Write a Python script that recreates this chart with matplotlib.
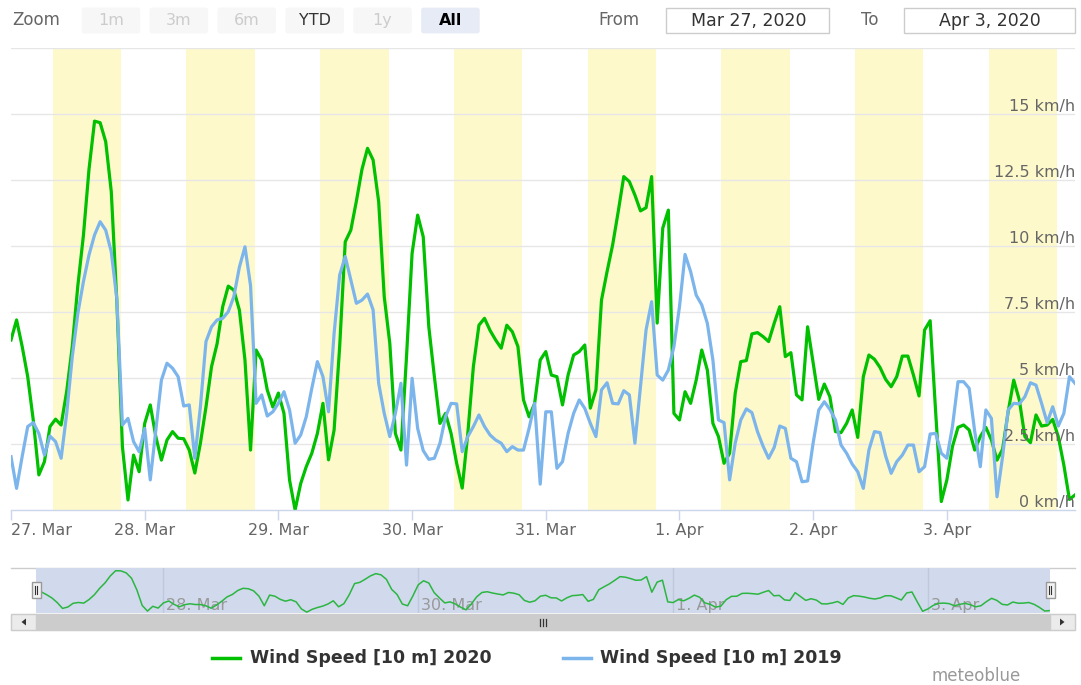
import numpy as np
import matplotlib
matplotlib.use("Agg")
import matplotlib.pyplot as plt
import matplotlib.transforms as mtransforms
from matplotlib.patches import FancyBboxPatch, Rectangle, Polygon

# ---------------- data (hourly, 27 Mar 00:00 -> 3 Apr 23:00) ----------------
wind_2020 = [
    6.44, 7.2, 6.2, 5.05, 3.4, 1.33, 1.83, 3.16, 3.44, 3.22, 4.5, 6.2,
    8.5, 10.4, 12.9, 14.73, 14.67, 13.95, 12.06, 7.9, 2.4, 0.38, 2.08, 1.45,
    3.28, 3.98, 2.78, 1.89, 2.65, 2.97, 2.72, 2.7, 2.27, 1.4, 2.53, 3.9,
    5.43, 6.3, 7.7, 8.48, 8.33, 7.57, 5.68, 2.27, 6.06, 5.68, 4.55, 3.9,
    4.43, 3.66, 1.14, 0.0, 1.0, 1.64, 2.15, 2.9, 4.04, 1.9, 3.03, 6.19,
    10.16, 10.6, 11.7, 12.9, 13.7, 13.26, 11.68, 8.08, 6.31, 2.9, 2.27, 5.81,
    9.72, 11.17, 10.35, 6.94, 5.05, 3.28, 3.66, 2.9, 1.77, 0.83, 2.9, 5.43,
    7.0, 7.26, 6.8, 6.44, 6.13, 7.0, 6.75, 6.19, 4.17, 3.53, 4.04, 5.68,
    6.0, 5.11, 5.05, 3.98, 5.11, 5.87, 6.0, 6.25, 3.86, 4.55, 7.95, 9.03,
    10.04, 11.3, 12.63, 12.44, 11.93, 11.33, 11.45, 12.63, 7.08, 10.68, 11.36, 3.66,
    3.41, 4.48, 4.04, 4.92, 6.06, 5.3, 3.28, 2.78, 1.77, 2.15, 4.42, 5.62,
    5.66, 6.67, 6.72, 6.57, 6.38, 7.07, 7.7, 5.81, 5.96, 4.36, 4.17, 6.94,
    5.56, 4.19, 4.77, 4.29, 2.97, 2.93, 3.28, 3.79, 2.75, 5.05, 5.87, 5.71,
    5.4, 4.95, 4.67, 5.05, 5.83, 5.83, 5.11, 4.32, 6.82, 7.17, 3.66, 0.32,
    1.14, 2.4, 3.13, 3.22, 3.03, 2.27, 2.78, 3.13, 2.65, 1.89, 2.3, 3.72,
    4.92, 4.17, 2.78, 2.55, 3.6, 3.18, 3.22, 3.43, 2.78, 1.7, 0.4, 0.57,
]
wind_2019 = [
    2.02, 0.82, 2.02, 3.16, 3.31, 2.9, 2.08, 2.8, 2.59, 1.96, 3.66, 5.81,
    7.45, 8.65, 9.66, 10.42, 10.92, 10.6, 9.78, 8.0, 3.22, 3.47, 2.59, 2.21,
    3.09, 1.14, 3.03, 4.92, 5.56, 5.37, 5.05, 3.94, 3.98, 1.96, 3.91, 6.38,
    6.94, 7.2, 7.26, 7.51, 8.08, 9.2, 9.97, 8.5, 4.04, 4.36, 3.56, 3.72,
    4.04, 4.48, 3.79, 2.53, 2.84, 3.53, 4.61, 5.62, 5.05, 3.72, 6.69, 8.9,
    9.6, 8.71, 7.83, 7.95, 8.18, 7.58, 4.8, 3.66, 2.78, 3.66, 4.8, 1.7,
    4.99, 3.09, 2.25, 1.92, 1.96, 2.53, 3.53, 4.04, 4.02, 2.21, 2.78, 3.16,
    3.6, 3.16, 2.84, 2.65, 2.53, 2.21, 2.4, 2.27, 2.27, 3.09, 4.04, 0.98,
    3.72, 3.72, 1.58, 1.83, 2.9, 3.66, 4.17, 3.85, 3.28, 2.78, 4.55, 4.82,
    4.04, 4.02, 4.52, 4.36, 2.53, 4.67, 6.82, 7.89, 5.11, 4.92, 5.3, 6.19,
    7.7, 9.68, 9.03, 8.14, 7.77, 7.07, 5.68, 3.41, 3.31, 1.14, 2.53, 3.41,
    3.83, 3.69, 2.97, 2.42, 1.96, 2.37, 3.18, 3.09, 1.96, 1.83, 1.07, 1.1,
    2.55, 3.79, 4.1, 3.81, 3.41, 2.46, 2.15, 1.74, 1.45, 0.82, 2.27, 2.97,
    2.93, 2.05, 1.39, 1.83, 2.08, 2.46, 2.46, 1.45, 1.64, 2.88, 2.9, 2.15,
    1.96, 3.16, 4.86, 4.86, 4.61, 2.97, 1.64, 3.79, 3.47, 0.5, 2.02, 3.79,
    4.04, 4.02, 4.29, 4.82, 4.73, 4.04, 3.31, 3.91, 3.18, 3.66, 5.05, 4.8,
]
day_labels = ["27. Mar", "28. Mar", "29. Mar", "30. Mar", "31. Mar", "1. Apr", "2. Apr", "3. Apr"]
nav_labels = {1: "28. Mar", 3: "30. Mar", 5: "1. Apr", 7: "3. Apr"}
y_ticks = [0, 2.5, 5, 7.5, 10, 12.5, 15]
y_tick_labels = ["0 km/h", "2.5 km/h", "5 km/h", "7.5 km/h", "10 km/h", "12.5 km/h", "15 km/h"]
daylight_start_h = 7.5
daylight_end_h = 19.8
series_names = ["Wind Speed [10 m] 2020", "Wind Speed [10 m] 2019"]
zoom_buttons = ["1m", "3m", "6m", "YTD", "1y", "All"]
date_from = "Mar 27, 2020"
date_to = "Apr 3, 2020"

assert len(wind_2020) == 192 and len(wind_2019) == 192
hours = np.arange(len(wind_2020))
day_ticks = np.arange(len(day_labels)) * 24

GREEN = "#00c000"
BLUE = "#7cb5ec"
W, H = 1081, 685

fig = plt.figure(figsize=(W / 100, H / 100), dpi=100)
fig.patch.set_facecolor("white")

# overlay in pixel coordinates for UI chrome (below charts)
ov = fig.add_axes([0, 0, 1, 1], zorder=0)
ov.set_xlim(0, W)
ov.set_ylim(H, 0)
ov.axis("off")

# ---------------- top toolbar ----------------
ov.text(12, 20, "Zoom", va="center", ha="left", color="#666666", fontsize=12)
btn_x0, btn_w, btn_step = 81.7, 58.5, 67.9
for i, lab in enumerate(zoom_buttons):
    x0 = btn_x0 + i * btn_step
    fc = "#e6ebf5" if lab == "All" else "#f7f7f7"
    ov.add_patch(FancyBboxPatch((x0, 7.6), btn_w, 25.8,
                                boxstyle="round,pad=0,rounding_size=2.5",
                                fc=fc, ec="none"))
    if lab == "All":
        col, wt = "#000000", "bold"
    elif lab == "YTD":
        col, wt = "#333333", "normal"
    else:
        col, wt = "#cccccc", "normal"
    ov.text(x0 + btn_w / 2, 20.5, lab, ha="center", va="center", color=col,
            fontsize=11.5, fontweight=wt)

ov.text(598, 20, "From", va="center", ha="left", color="#666666", fontsize=12)
ov.add_patch(Rectangle((666, 7.6), 163, 25.8, fc="white", ec="#cccccc", lw=1))
ov.text(749, 20.5, date_from, ha="center", va="center", color="#333333", fontsize=12.5)
ov.text(861, 20, "To", va="center", ha="left", color="#666666", fontsize=12)
ov.add_patch(Rectangle((904, 7.6), 171, 25.8, fc="white", ec="#cccccc", lw=1))
ov.text(990, 20.5, date_to, ha="center", va="center", color="#333333", fontsize=12.5)

# ---------------- main chart ----------------
ax = fig.add_axes([11 / W, 1 - 510 / H, 1064 / W, 462 / H], zorder=2)
ax.set_xlim(hours[0], hours[-1])
ax.set_ylim(0, 17.5)
ax.set_facecolor("white")
for side in ["top", "left", "right"]:
    ax.spines[side].set_visible(False)
ax.spines["bottom"].set_color("#ccd6eb")
ax.spines["bottom"].set_linewidth(1)
ax.spines["bottom"].set_zorder(5)

for d in day_ticks:
    ax.axvspan(d + daylight_start_h, d + daylight_end_h, color="#fdf9cb", lw=0, zorder=0)

for v in np.arange(2.5, 17.6, 2.5):
    ax.axhline(v, color="#e6e6e6", lw=1, zorder=1)

ax.plot(hours, wind_2020, color=GREEN, lw=2.3, zorder=3, solid_joinstyle="round")
ax.plot(hours, wind_2019, color=BLUE, lw=2.3, zorder=4, solid_joinstyle="round")

ax.set_yticks([])
ax.set_xticks(day_ticks)
ax.set_xticklabels(day_labels)
ax.tick_params(axis="x", length=7.2, width=1, color="#ccd6eb", labelcolor="#666666",
               labelsize=11.5, pad=2.0, direction="out")
ax.get_xticklabels()[0].set_ha("left")

ytrans = mtransforms.blended_transform_factory(ax.transAxes, ax.transData)
for v, lab in zip(y_ticks, y_tick_labels):
    ax.text(1.0, v + 0.27, lab, transform=ytrans, ha="right", va="center",
            color="#666666", fontsize=11.5, zorder=6)

# ---------------- navigator ----------------
ov.plot([11, 1075], [567.5, 567.5], color="#cccccc", lw=1)
nav = fig.add_axes([36 / W, 1 - 613 / H, 1014 / W, 45 / H], zorder=2)
nav.set_facecolor("#d1d9ec")
nav.set_xlim(hours[0], hours[-1])
nav.set_ylim(-0.3, 15.7)
for s in nav.spines.values():
    s.set_visible(False)
nav.set_xticks([])
nav.set_yticks([])
for d_i, lab in nav_labels.items():
    x = day_ticks[d_i]
    nav.axvline(x, color="#bfc8dc", lw=1, zorder=1)
    tr = mtransforms.offset_copy(nav.transData, fig=fig, x=3, y=0, units="dots")
    nav.text(x, 2.2, lab, transform=tr, ha="left", va="center", color="#999999",
             fontsize=11.5, zorder=2)
nav.plot(hours, wind_2020, color="#2bb641", lw=1.1, zorder=3)

# overlay on top for handles
top = fig.add_axes([0, 0, 1, 1], zorder=10)
top.set_xlim(0, W)
top.set_ylim(H, 0)
top.axis("off")
top.patch.set_alpha(0)
for hx in (36, 1050):
    top.add_patch(Rectangle((hx - 4.5, 582), 9, 16, fc="#f2f2f2", ec="#999999", lw=1))
    top.plot([hx - 1.3, hx - 1.3], [586, 594], color="#333333", lw=0.8)
    top.plot([hx + 1.3, hx + 1.3], [586, 594], color="#333333", lw=0.8)

# scrollbar
ov.add_patch(Rectangle((11, 614), 1064, 16, fc="#f2f2f2", ec="#f2f2f2", lw=1))
ov.add_patch(Rectangle((36, 614), 1014, 16, fc="#cccccc", ec="#cccccc", lw=1))
ov.add_patch(Rectangle((11, 614), 25, 16, fc="#ebebeb", ec="#cccccc", lw=1))
ov.add_patch(Rectangle((1050, 614), 25, 16, fc="#ebebeb", ec="#cccccc", lw=1))
ov.add_patch(Polygon([[21.5, 622], [26, 618.5], [26, 625.5]], closed=True, fc="#333333", ec="none"))
ov.add_patch(Polygon([[1064.5, 622], [1060, 618.5], [1060, 625.5]], closed=True, fc="#333333", ec="none"))
for rx in (540, 543, 546):
    ov.plot([rx, rx], [618.5, 625.5], color="#333333", lw=0.9)

# ---------------- legend ----------------
ov.plot([212, 240], [657.5, 657.5], color=GREEN, lw=2.5)
ov.text(250, 658, series_names[0], ha="left", va="center", color="#333333",
        fontsize=12.5, fontweight="bold")
ov.plot([563, 591], [657.5, 657.5], color=BLUE, lw=2.5)
ov.text(600, 658, series_names[1], ha="left", va="center", color="#333333",
        fontsize=12.5, fontweight="bold")
ov.text(1021, 676, "meteoblue", ha="right", va="center", color="#999999", fontsize=12)

fig.savefig("out.png", dpi=100, facecolor="white")
